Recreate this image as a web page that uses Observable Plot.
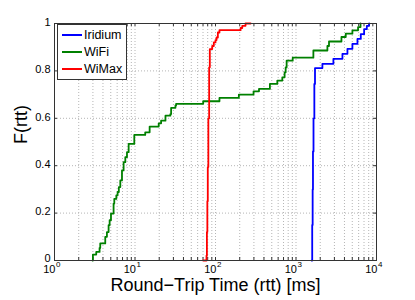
<!DOCTYPE html>
<html>
<head>
<meta charset="utf-8">
<script src="https://cdn.jsdelivr.net/npm/d3@7"></script>
<script src="https://cdn.jsdelivr.net/npm/@observablehq/plot@0.6"></script>
<style>
  body { margin: 0; background: #fff; }
  #wrap { position: relative; width: 415px; height: 300px; font-family: "Liberation Sans", Arial, sans-serif; }
  #legend { position: absolute; left: 57px; top: 24px; width: 70px; height: 56px; box-sizing: border-box; border: 1px solid #333; background: #fff; }
  .row { position: absolute; left: 0; height: 14px; width: 68px; }
  .sw { position: absolute; left: 4px; top: 6px; width: 20px; height: 0; border-top: 2px solid; }
  .lab { position: absolute; left: 26px; top: 0; font-size: 12.5px; line-height: 14px; color: #000; white-space: nowrap; }
</style>
</head>
<body>
<div id="wrap"></div>
<script>
const seriesNames = ["Iridium", "WiFi", "WiMax"];
const seriesColors = ["#0000ff", "#008000", "#ff0000"];

const rttIridium = [1566, 1590, 1610, 1625, 1650, 1690, 1722, 2128, 2915, 3775, 4355, 5020, 5800, 6380, 7020, 7580, 8100];
const cdfIridium = [0, 0.15, 0.3, 0.46, 0.6, 0.745, 0.812, 0.83, 0.851, 0.872, 0.893, 0.914, 0.935, 0.955, 0.976, 0.99, 1.0];

const rttWiFi = [2.97, 3.0, 3.3, 3.63, 3.7, 4.27, 4.48, 4.7, 4.84, 5.03, 5.42, 5.53, 5.86, 6.08, 6.3, 6.57, 6.89, 7.22, 7.58, 7.95, 8.34, 9.8, 13.4, 15.2, 19.7, 21.1, 23.9, 27.5, 28.1, 31.8, 32.4, 70.3, 112, 195, 297, 347, 474, 586, 676, 722, 744, 765, 910, 1644, 2455, 2570, 3670, 4150, 5020, 5900, 6330];
const cdfWiFi = [0, 0.025, 0.036, 0.053, 0.072, 0.1, 0.12, 0.149, 0.17, 0.198, 0.24, 0.26, 0.275, 0.289, 0.31, 0.338, 0.38, 0.415, 0.436, 0.457, 0.492, 0.53, 0.541, 0.565, 0.579, 0.59, 0.611, 0.618, 0.644, 0.654, 0.661, 0.672, 0.686, 0.70, 0.714, 0.724, 0.745, 0.759, 0.773, 0.794, 0.815, 0.843, 0.856, 0.886, 0.905, 0.924, 0.943, 0.957, 0.971, 0.985, 1.0];

const rttWiMax = [70.3, 77.3, 78.2, 79.2, 80.2, 81.5, 83.4, 85, 91, 95.3, 100, 103, 107, 112, 205, 215, 236, 273];
const cdfWiMax = [0, 0.02, 0.12, 0.25, 0.394, 0.6, 0.815, 0.892, 0.905, 0.92, 0.93, 0.941, 0.962, 0.972, 0.981, 0.99, 1.0, 1.0];

const xDecades = [1, 10, 100, 1000, 10000];
const xExponents = ["0", "1", "2", "3", "4"];
const yTicks = [0, 0.2, 0.4, 0.6, 0.8, 1];
const yTickLabels = ["0", "0.2", "0.4", "0.6", "0.8", "1"];
const xLabel = "Round\u2212Trip Time (rtt) [ms]";
const yLabel = "F(rtt)";

const toRows = (xs, ys) => xs.map((x, i) => ({rtt: x, F: ys[i]}));
const dataSets = [toRows(rttIridium, cdfIridium), toRows(rttWiFi, cdfWiFi), toRows(rttWiMax, cdfWiMax)];

// minor + major grid positions on the log axis
const xGrid = [];
for (let d = 1; d < 10000; d *= 10) for (let m = 1; m < 10; m++) xGrid.push(d * m);
xGrid.push(10000);

const tickLenY = 3 / 237;       // 3px in F units
const tickFacX = Math.pow(10, 3 / 80.5); // 3px in log units
const axisColor = "#333";
const gridColor = "#b5b5b5";

const yLabelRows = yTicks.map((v, i) => ({v, t: yTickLabels[i]}));

const plot = Plot.plot({
  width: 415,
  height: 300,
  marginLeft: 54,
  marginRight: 39,
  marginTop: 23,
  marginBottom: 40,
  style: {background: "#fff", fontFamily: "'Liberation Sans', Arial, sans-serif", fontSize: "11px", color: "#000"},
  x: {type: "log", domain: [1, 10000], axis: null},
  y: {domain: [0, 1], axis: null},
  marks: [
    Plot.ruleX(xGrid.filter(v => v > 1 && v < 10000), {stroke: gridColor, strokeDasharray: "1,2", strokeWidth: 1}),
    Plot.ruleY(yTicks.filter(v => v > 0 && v < 1), {stroke: gridColor, strokeDasharray: "1,2", strokeWidth: 1}),
    // inward ticks bottom/top
    Plot.ruleX(xGrid, {x: d => d, y1: () => 0, y2: () => tickLenY, stroke: axisColor}),
    Plot.ruleX(xGrid, {x: d => d, y1: () => 1, y2: () => 1 - tickLenY, stroke: axisColor}),
    // inward ticks left/right
    Plot.ruleY(yTicks, {y: d => d, x1: () => 1, x2: () => tickFacX, stroke: axisColor}),
    Plot.ruleY(yTicks, {y: d => d, x1: () => 10000, x2: () => 10000 / tickFacX, stroke: axisColor}),
    ...dataSets.map((rows, i) => Plot.line(rows, {x: "rtt", y: "F", curve: "step-after", stroke: seriesColors[i], strokeWidth: 1.8})),
    Plot.frame({stroke: axisColor, strokeWidth: 1}),
    // y tick labels (the "0" nudged up slightly to clear the 10^0 label)
    Plot.text(yLabelRows.filter(d => d.v > 0), {y: "v", frameAnchor: "left", text: "t", textAnchor: "end", dx: -4, dy: -1.2, fontSize: 11}),
    Plot.text(yLabelRows.filter(d => d.v === 0), {y: "v", frameAnchor: "left", text: "t", textAnchor: "end", dx: -4, dy: -2.2, fontSize: 11}),
    // x tick labels 10^n
    Plot.text(xDecades, {x: d => d, frameAnchor: "bottom", text: () => "10", textAnchor: "end", dx: 1, dy: 12.3, fontSize: 11}),
    Plot.text(xDecades, {x: d => d, frameAnchor: "bottom", text: (d, i) => xExponents[i], textAnchor: "start", dx: 1.5, dy: 6.2, fontSize: 8}),
    // axis titles
    Plot.text([xLabel], {frameAnchor: "bottom", text: d => d, dy: 30.8, fontSize: 18}),
    Plot.text([yLabel], {frameAnchor: "left", text: d => d, rotate: -90, dx: -33.5, dy: 2, fontSize: 18})
  ]
});

const wrap = document.getElementById("wrap");
wrap.appendChild(plot);

const legend = document.createElement("div");
legend.id = "legend";
const rowTops = [3, 20, 37];
seriesNames.forEach((name, i) => {
  const row = document.createElement("div");
  row.className = "row";
  row.style.top = rowTops[i] + "px";
  const sw = document.createElement("div");
  sw.className = "sw";
  sw.style.borderTopColor = seriesColors[i];
  const lab = document.createElement("div");
  lab.className = "lab";
  lab.textContent = name;
  row.appendChild(sw);
  row.appendChild(lab);
  legend.appendChild(row);
});
wrap.appendChild(legend);
</script>
</body>
</html>
